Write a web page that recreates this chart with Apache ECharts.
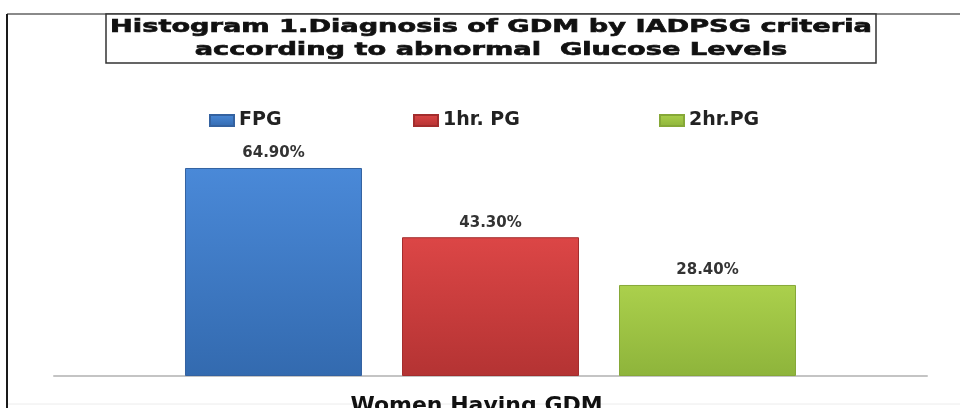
<!DOCTYPE html>
<html>
<head>
<meta charset="utf-8">
<script src="https://cdn.jsdelivr.net/npm/echarts@6/dist/echarts.min.js"></script>
<style>
  html, body { margin: 0; padding: 0; background: #ffffff; }
  #chart { width: 960px; height: 408px; }
</style>
</head>
<body>
<div id="chart"></div>
<script>
// ---- data ----
const categories = ['Women Having GDM'];
const seriesNames = ['FPG', '1hr. PG', '2hr.PG'];
const fpgValues = [64.9];
const pg1Values = [43.3];
const pg2Values = [28.4];
const titleLines = ['Histogram 1.Diagnosis of GDM by IADPSG criteria', 'according to abnormal  Glucose Levels'];

const FONT = '"DejaVu Sans", "Liberation Sans", sans-serif';

function grad(top, bottom) {
  return new echarts.graphic.LinearGradient(0, 0, 0, 1, [
    { offset: 0, color: top },
    { offset: 1, color: bottom }
  ]);
}
const colors = [
  { fill: grad('#4a89d8', '#336aaf'), border: '#3462a0' },
  { fill: grad('#dc4646', '#b43333'), border: '#a32d2d' },
  { fill: grad('#abd04c', '#8eb43b'), border: '#86a838' }
];
const values = [fpgValues, pg1Values, pg2Values];

const chart = echarts.init(document.getElementById('chart'));

const legendLefts = [204, 408, 654];

const option = {
  backgroundColor: '#ffffff',
  animation: false,
  legend: seriesNames.map((name, i) => ({
    data: [name],
    left: legendLefts[i],
    top: 106,
    itemWidth: 24,
    itemHeight: 11,
    itemGap: 5,
    icon: 'rect',
    textStyle: { fontFamily: FONT, fontWeight: 'bold', fontSize: 19, color: '#222' }
  })),
  grid: { left: 54, right: 33, top: 151.65, bottom: 32, containLabel: false, outerBoundsMode: 'none' },
  xAxis: {
    type: 'category',
    data: categories,
    axisLine: { show: true, lineStyle: { color: '#c4c4c4', width: 2 } },
    axisTick: { show: false },
    axisLabel: {
      margin: 19,
      fontFamily: FONT,
      fontWeight: 'bold',
      fontSize: 22,
      color: '#111',
      padding: [0, 28, 0, 0]
    }
  },
  yAxis: {
    type: 'value',
    min: 0,
    max: 70,
    show: false,
    splitLine: { show: false }
  },
  series: seriesNames.map((name, i) => ({
    name: name,
    type: 'bar',
    data: values[i],
    barWidth: 177,
    barGap: '22.6%',
    itemStyle: {
      color: colors[i].fill,
      borderColor: colors[i].border,
      borderWidth: 1
    },
    label: {
      show: true,
      position: 'top',
      distance: 7,
      formatter: (p) => p.value.toFixed(2) + '%',
      fontFamily: FONT,
      fontWeight: 'bold',
      fontSize: 15,
      color: '#333'
    }
  })),
  graphic: [
    { type: 'line', shape: { x1: 7, y1: 14, x2: 960, y2: 14 }, style: { stroke: '#8a8a8a', lineWidth: 2 }, z: 1 },
    { type: 'line', shape: { x1: 7, y1: 14, x2: 7, y2: 408 }, style: { stroke: '#1a1a1a', lineWidth: 2 }, z: 1 },
    { type: 'line', shape: { x1: 8, y1: 404, x2: 960, y2: 404 }, style: { stroke: '#ececec', lineWidth: 1 }, z: 0 },
    { type: 'rect', shape: { x: 106, y: 14, width: 770, height: 49 }, style: { fill: '#ffffff', stroke: '#333333', lineWidth: 1.5 }, z: 2 },
    {
      type: 'text',
      x: 491, y: 39,
      scaleX: 1.6,
      z: 3,
      style: {
        x: 0, y: 0,
        text: titleLines.join('\n'),
        fontFamily: 'DejaVu Sans',
        fontWeight: 'bold',
        fontSize: 17,
        fill: '#111',
        stroke: '#111',
        lineWidth: 0.6,
        align: 'center', verticalAlign: 'middle',
        textAlign: 'center', textVerticalAlign: 'middle',
        lineHeight: 23
      }
    }
  ]
};
chart.setOption(option);
</script>
</body>
</html>
